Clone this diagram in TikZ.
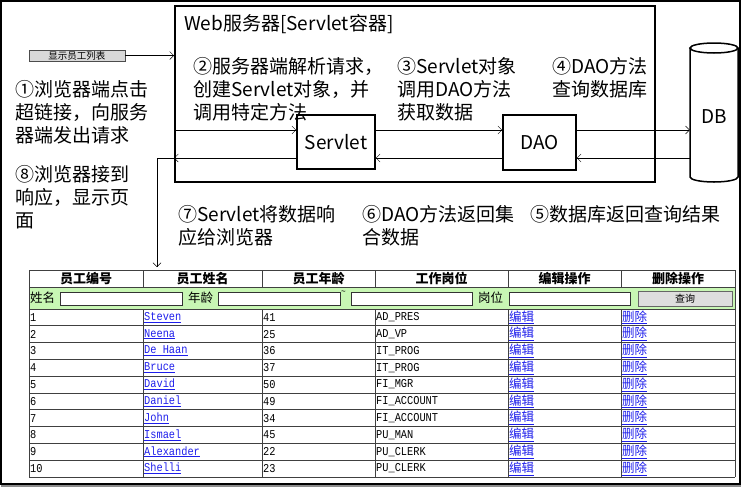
\documentclass[tikz,border=0pt]{standalone}
\usepackage{fontspec}
\setmainfont{Noto Sans CJK SC}
\newfontfamily\mono[FakeStretch=0.86]{Liberation Mono}
\usetikzlibrary{arrows.meta}
\tikzset {>={Straight Barb[length=4pt,width=8pt]}}
\definecolor{rowgreen}{RGB}{200,247,180}
\definecolor{linkblue}{RGB}{30,30,235}
\newcommand*{\lnk}[1]{\textcolor{linkblue}{\underline{#1}}}

\begin{document}
\begin{tikzpicture}[x=1pt,y=-1pt,
  note/.style={anchor=north west,align=left,inner sep=0pt,font=\fontsize{19}{23}\selectfont},
  box/.style={draw,line width=1.6pt,inner sep=0pt,font=\fontsize{19}{22}\selectfont},
  grid/.style={draw=black!75,line width=0.9pt},
  field/.style={draw=black!80,fill=white,line width=0.8pt},
  head/.style={inner sep=0pt,font=\bfseries\fontsize{13}{15}\selectfont},
  lbl/.style={anchor=west,inner sep=0pt,font=\fontsize{12.5}{14}\selectfont},
  cell/.style={anchor=west,inner sep=0pt,font=\mono\fontsize{12}{13}\selectfont}]
\useasboundingbox (0,0) rectangle (748,491);
\fill[black!45] (1,485) rectangle (741,487);
\draw[line width=1.2pt] (1,1) rectangle (740,484);

% web server
\node[draw,line width=2pt,minimum width=480,minimum height=176,inner sep=0pt] (web) at (415,94) {};
\node[note] (title) at (184,14) {Web服务器[Servlet容器]};
\node[box,minimum width=78,minimum height=54] (servlet) at (336,142) {Servlet};
\node[box,minimum width=73,minimum height=55] (dao) at (539.5,142.5) {DAO};

% database
\draw[line width=1.5pt] (690,48) -- (690,177) arc[start angle=180,end angle=360,x radius=24pt,y radius=5pt] -- (738,48);
\draw[line width=1.5pt] (714,48) ellipse[x radius=24pt,y radius=5pt];
\node[inner sep=0pt,minimum width=48,minimum height=120,font=\fontsize{19}{22}\selectfont] (db) at (714,117) {DB};

% page button
\node[draw=black!70,fill=black!15,minimum width=96,minimum height=11,inner sep=0pt,font=\fontsize{9.5}{10}\selectfont] (show) at (77,55.5) {显示员工列表};

% steps
\node[note] (s1) at (15,80) {①浏览器端点击\\超链接，向服务\\器端发出请求};
\node[note] (s2) at (193,57) {②服务器端解析请求，\\创建Servlet对象，并\\调用特定方法};
\node[note] (s3) at (397,57) {③Servlet对象\\调用DAO方法\\获取数据};
\node[note] (s4) at (552,57) {④DAO方法\\查询数据库};
\node[note] (s5) at (530,205) {⑤数据库返回查询结果};
\node[note] (s6) at (362,205) {⑥DAO方法返回集\\合数据};
\node[note] (s7) at (178,205) {⑦Servlet将数据响\\应给浏览器};
\node[note] (s8) at (15,165) {⑧浏览器接到\\响应，显示页\\面};

% connectors
\coordinate (fwd) at (0,130);
\coordinate (bwd) at (0,158);
\coordinate (drop) at (157,267);
\draw[->] (show) -- (show -| web.west);
\draw[->] (web.west |- fwd) -- (servlet.west |- fwd);
\draw[->] (servlet.east |- fwd) -- (dao.west |- fwd);
\draw[->] (dao.east |- fwd) -- (db.west |- fwd);
\draw[->] (db.west |- bwd) -- (dao.east |- bwd);
\draw[->] (dao.west |- bwd) -- (servlet.east |- bwd);
\draw[->] (servlet.west |- bwd) -- (web.west |- bwd);
\draw[->] (web.west |- bwd) -| (drop);

% table
\fill[rowgreen] (29,287) rectangle (735,309);
\foreach \y in {270,287,309}
  \draw[grid] (29,\y) -- (735,\y);
\foreach \k in {1,...,10}
  \draw[grid] (29,{309+16.8*\k}) -- (735,{309+16.8*\k});
\foreach \x in {29,735}
  \draw[grid] (\x,270) -- (\x,477);
\foreach \x in {143,262,375,508,621} {
  \draw[grid] (\x,270) -- (\x,287);
  \draw[grid] (\x,309) -- (\x,477);
}
\foreach \t/\cx [count=\c] in {员工编号/86,员工姓名/202.5,员工年龄/318.5,工作岗位/441.5,编辑操作/564.5,删除操作/678}
  \node[head] (h\c) at (\cx,278.5) {\t};

% search row
\node[lbl] (fname) at (30,298) {姓名};
\draw[field] (60,292) rectangle (182,305);
\node[lbl] (fage) at (188,298) {年龄};
\draw[field] (218,292) rectangle (340,305);
\node[lbl,font=\mono\fontsize{9}{10}\selectfont] (tilde) at (341,293) {\textasciitilde};
\draw[field] (351,292) rectangle (472,305);
\node[lbl] (fjob) at (478,298) {岗位};
\draw[field] (509,292) rectangle (630,305);
\node[draw=black!60,fill=black!13,line width=0.8pt,minimum width=94,minimum height=15,inner sep=0pt,font=\fontsize{10}{11}\selectfont] (query) at (685,298.5) {查询};

\foreach \nm/\age/\job [count=\k] in {Steven/41/AD\_PRES,Neena/25/AD\_VP,De Haan/36/IT\_PROG,Bruce/37/IT\_PROG,David/50/FI\_MGR,Daniel/49/FI\_ACCOUNT,John/34/FI\_ACCOUNT,Ismael/45/PU\_MAN,Alexander/22/PU\_CLERK,Shelli/23/PU\_CLERK} {
  \pgfmathsetmacro\ry{309+16.8*(\k-0.5)}
  \node[cell] (id\k) at (30,\ry) {\k};
  \node[cell] (nm\k) at (144,\ry) {\lnk{\nm}};
  \node[cell] (age\k) at (263,\ry) {\age};
  \node[cell] (job\k) at (376,\ry) {\job};
  \node[cell,font=\fontsize{12.5}{13}\selectfont] (ed\k) at (509,\ry) {\lnk{编辑}};
  \node[cell,font=\fontsize{12.5}{13}\selectfont] (del\k) at (622,\ry) {\lnk{删除}};
}
\end{tikzpicture}
\end{document}
